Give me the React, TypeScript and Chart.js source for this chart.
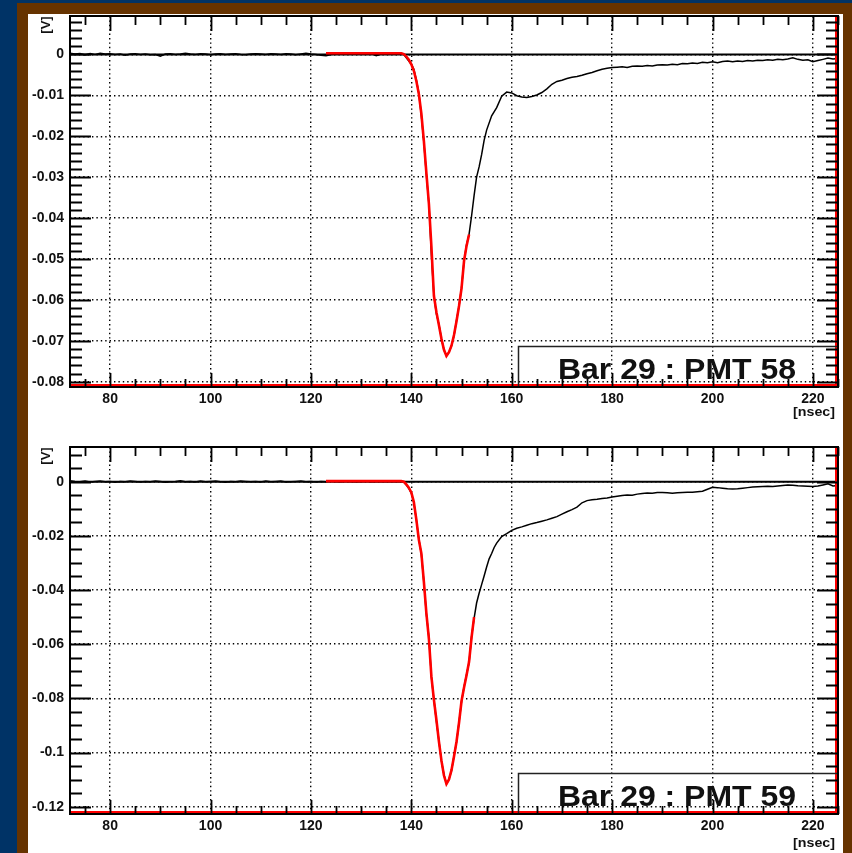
import React, { useEffect, useRef } from "react";
import { Chart, registerables } from "chart.js";

Chart.register(...registerables);

const timeMin = 72;
const timeMax = 225;
const timeMajorStep = 20;
const timeMinorStep = 5;

const pmt58Label = "Bar 29 : PMT 58";
const pmt59Label = "Bar 29 : PMT 59";

// [time (ns), amplitude (V)]
const pmt58Trace: [number, number][] = [
  [72, 0.0003], [73, 0.0001], [74, 0.0002], [75, -0.0001], [76, 0.0002], [77, 0.0], [78, 0.0003], [79, 0.0001],
  [80, 0.0002], [81, 0.0], [82, 0.0001], [83, -0.0002], [84, 0.0001], [85, 0.0002], [86, 0.0], [87, 0.0001],
  [88, -0.0001], [89, 0.0], [90, -0.0004], [91, 0.0001], [92, 0.0002], [93, 0.0], [94, 0.0001], [95, 0.0003],
  [96, 0.0001], [97, 0.0], [98, 0.0002], [99, 0.0001], [100, -0.0001], [101, 0.0001], [102, 0.0002], [103, 0.0],
  [104, 0.0001], [105, 0.0002], [106, 0.0], [107, -0.0001], [108, 0.0001], [109, 0.0002], [110, 0.0001], [111, 0.0],
  [112, 0.0002], [113, 0.0001], [114, 0.0], [115, 0.0002], [116, 0.0001], [117, -0.0001], [118, 0.0001], [119, 0.0003],
  [120, 0.0001], [121, 0.0], [122, -0.0002], [123, -0.0003], [124, 0.0], [125, 0.0001], [126, 0.0002], [127, 0.0003],
  [128, 0.0002], [129, 0.0003], [130, 0.0001], [131, 0.0002], [132, 0.0003], [133, -0.0003], [134, 0.0001], [135, 0.0004],
  [136, 0.0004], [137, 0.0004], [138, 0.0003], [138.5, 0.0], [139, -0.0008], [139.5, -0.0016], [140, -0.0024], [140.5, -0.0036],
  [141, -0.0062], [141.5, -0.0095], [142, -0.015], [142.5, -0.0215], [143, -0.0295], [143.5, -0.0365], [144, -0.049], [144.5, -0.059],
  [145, -0.0635], [145.5, -0.066], [146, -0.0695], [146.5, -0.0722], [147, -0.0737], [147.5, -0.0728], [148, -0.0712], [148.5, -0.0688],
  [149, -0.065], [149.5, -0.0615], [150, -0.057], [150.5, -0.0505], [151, -0.0465], [151.5, -0.044], [152, -0.0395], [152.5, -0.0345],
  [153, -0.03], [153.5, -0.0275], [154, -0.0245], [154.5, -0.021], [155, -0.0185], [156, -0.015], [157, -0.013], [158, -0.0102],
  [159, -0.0092], [160, -0.0094], [161, -0.0101], [162, -0.0104], [163, -0.0105], [164, -0.0103], [165, -0.0099], [166, -0.0093],
  [167, -0.0084], [168, -0.0073], [169, -0.0066], [170, -0.0063], [171, -0.0059], [172, -0.0056], [173, -0.0054], [174, -0.0051],
  [175, -0.0047], [176, -0.0044], [177, -0.004], [178, -0.0036], [179, -0.0034], [180, -0.0032], [181, -0.0031], [182, -0.003],
  [183, -0.0032], [184, -0.0029], [185, -0.0028], [186, -0.0029], [187, -0.0027], [188, -0.0028], [189, -0.0026], [190, -0.0025],
  [191, -0.0026], [192, -0.0024], [193, -0.0025], [194, -0.0022], [195, -0.0023], [196, -0.0021], [197, -0.0022], [198, -0.0019],
  [199, -0.002], [200, -0.0018], [201, -0.002], [202, -0.0017], [203, -0.0016], [204, -0.0018], [205, -0.0016], [206, -0.0017],
  [207, -0.0015], [208, -0.0016], [209, -0.0014], [210, -0.0015], [211, -0.0013], [212, -0.0014], [213, -0.0012], [214, -0.0013],
  [215, -0.0011], [216, -0.0008], [217, -0.0012], [218, -0.0014], [219, -0.0013], [220, -0.0018], [221, -0.0015], [222, -0.0012],
  [223, -0.0009], [224, -0.0011], [225, -0.001],
];

const pmt58Fit: [number, number][] = [
  [123, 0.0003], [138, 0.0003], [138.5, 0.0001], [139, -0.0005], [139.5, -0.0013], [140, -0.0024], [140.5, -0.004],
  [141, -0.0065], [141.5, -0.0097], [142, -0.0145], [142.5, -0.0212], [143, -0.029], [143.5, -0.0365], [144, -0.047],
  [144.5, -0.059], [145, -0.063], [145.5, -0.0662], [146, -0.0695], [146.5, -0.0722], [147, -0.0737], [147.5, -0.0728],
  [148, -0.0712], [148.5, -0.0686], [149, -0.0652], [149.5, -0.0615], [150, -0.0572], [150.5, -0.0505], [151, -0.0468],
  [151.5, -0.044],
];

const pmt59Trace: [number, number][] = [
  [72, 0.0003], [73, 0.0001], [74, 0.0], [75, 0.0002], [76, -0.0001], [77, 0.0001], [78, 0.0002], [79, 0.0],
  [80, 0.0001], [81, -0.0002], [82, 0.0001], [83, 0.0], [84, 0.0002], [85, 0.0001], [86, -0.0001], [87, 0.0001],
  [88, 0.0], [89, 0.0002], [90, 0.0001], [91, -0.0002], [92, 0.0], [93, 0.0001], [94, 0.0003], [95, 0.0],
  [96, 0.0001], [97, -0.0001], [98, 0.0002], [99, 0.0], [100, 0.0001], [101, 0.0002], [102, 0.0], [103, -0.0002],
  [104, 0.0001], [105, 0.0], [106, 0.0002], [107, 0.0001], [108, 0.0], [109, 0.0001], [110, -0.0001], [111, 0.0002],
  [112, 0.0], [113, 0.0001], [114, 0.0002], [115, -0.0001], [116, 0.0], [117, 0.0001], [118, 0.0002], [119, 0.0],
  [120, 0.0001], [121, -0.0001], [122, 0.0001], [123, 0.0], [124, 0.0002], [125, 0.0001], [126, 0.0], [127, 0.0002],
  [128, 0.0001], [129, 0.0], [130, 0.0001], [131, 0.0002], [132, 0.0], [133, 0.0001], [134, 0.0002], [135, 0.0001],
  [136, 0.0002], [137, 0.0001], [138, 0.0001], [138.5, -0.0002], [139, -0.0012], [139.5, -0.0025], [140, -0.0042], [140.5, -0.0078],
  [141, -0.0141], [141.5, -0.0212], [142, -0.0268], [142.5, -0.0372], [143, -0.049], [143.5, -0.0575], [144, -0.0722], [144.5, -0.0806],
  [145, -0.0885], [145.5, -0.0958], [146, -0.1032], [146.5, -0.1082], [147, -0.1116], [147.5, -0.1098], [148, -0.1068], [148.5, -0.1012],
  [149, -0.0962], [149.5, -0.0888], [150, -0.0812], [150.5, -0.0758], [151, -0.0712], [151.5, -0.0668], [152, -0.0572], [152.5, -0.0505],
  [153, -0.0448], [153.5, -0.0412], [154, -0.038], [154.5, -0.0348], [155, -0.0315], [155.5, -0.0285], [156, -0.0265], [156.5, -0.0243],
  [157, -0.0227], [158, -0.0203], [159, -0.0192], [160, -0.018], [161, -0.0172], [162, -0.0167], [163, -0.0161], [164, -0.0155],
  [165, -0.0151], [166, -0.0146], [167, -0.0141], [168, -0.0135], [169, -0.0129], [170, -0.012], [171, -0.0111], [172, -0.0103],
  [173, -0.0094], [174, -0.0078], [175, -0.007], [176, -0.0067], [177, -0.0065], [178, -0.0062], [179, -0.006], [180, -0.0057],
  [181, -0.0054], [182, -0.0051], [183, -0.0049], [184, -0.005], [185, -0.0046], [186, -0.0044], [187, -0.0042], [188, -0.0043],
  [189, -0.004], [190, -0.004], [191, -0.0041], [192, -0.0043], [193, -0.0041], [194, -0.004], [195, -0.0039], [196, -0.0039],
  [197, -0.0037], [198, -0.0035], [199, -0.0028], [200, -0.0021], [201, -0.0022], [202, -0.0024], [203, -0.0026], [204, -0.0027],
  [205, -0.0026], [206, -0.0024], [207, -0.0022], [208, -0.002], [209, -0.0019], [210, -0.0018], [211, -0.0017], [212, -0.0018],
  [213, -0.0016], [214, -0.0014], [215, -0.0012], [216, -0.0013], [217, -0.0015], [218, -0.0016], [219, -0.0017], [220, -0.0018],
  [221, -0.0016], [222, -0.0012], [223, -0.0008], [224, -0.0016], [225, -0.0014],
];

const pmt59Fit: [number, number][] = [
  [123, 0.0002], [138, 0.0002], [138.5, 0.0], [139, -0.001], [139.5, -0.0022], [140, -0.004], [140.5, -0.0075],
  [141, -0.014], [141.5, -0.0215], [142, -0.0265], [142.5, -0.037], [143, -0.0486], [143.5, -0.058], [144, -0.072],
  [144.5, -0.0806], [145, -0.088], [145.5, -0.096], [146, -0.103], [146.5, -0.1085], [147, -0.1116], [147.5, -0.11],
  [148, -0.1065], [148.5, -0.1015], [149, -0.096], [149.5, -0.089], [150, -0.081], [150.5, -0.076], [151, -0.0715],
  [151.5, -0.0665], [152, -0.0575], [152.5, -0.05],
];

const FONT_FAMILY = "'Liberation Sans', Arial, Helvetica, sans-serif";

type PlotCfg = {
  trace: [number, number][];
  fit: [number, number][];
  label: string;
  yMin: number;
  yMax: number;
  yMajor: number;
  yMinor: number;
  padTop: number;
  xAxisHeight: number;
  nsecOffset: number;
  canvasHeight: number;
  canvasTop: number;
};

function drawStretched(
  ctx: CanvasRenderingContext2D,
  text: string,
  x: number,
  y: number,
  width: number,
  font: string,
  align: "left" | "right"
) {
  ctx.save();
  ctx.font = font;
  ctx.textBaseline = "alphabetic";
  ctx.textAlign = "left";
  const w = ctx.measureText(text).width;
  const s = width / w;
  ctx.translate(align === "right" ? x - width : x, y);
  ctx.scale(s, 1);
  ctx.fillText(text, 0, 0);
  ctx.restore();
}

const rootFramePlugin = {
  id: "rootFrame",
  beforeDatasetsDraw(chart: any) {
    const { ctx, chartArea: a, scales } = chart;
    const y0 = scales.y.getPixelForValue(0);
    ctx.save();
    ctx.strokeStyle = "#000";
    ctx.lineWidth = 2;
    ctx.beginPath();
    ctx.moveTo(a.left, y0);
    ctx.lineTo(a.right, y0);
    ctx.stroke();
    ctx.restore();
  },
  afterDraw(chart: any, _args: any, cfg: any) {
    const { ctx, chartArea: a, scales } = chart;
    const xs = scales.x;
    const ys = scales.y;
    ctx.save();
    // red fit edge along bottom and right
    ctx.strokeStyle = "#ff0000";
    ctx.lineWidth = 2;
    ctx.beginPath();
    ctx.moveTo(a.left, a.bottom - 2);
    ctx.lineTo(a.right - 2, a.bottom - 2);
    ctx.lineTo(a.right - 2, a.top);
    ctx.stroke();

    // legend pave
    const boxLeft = a.left + 448.5;
    const boxTop = a.bottom - 40.5;
    ctx.strokeStyle = "#222";
    ctx.lineWidth = 1.5;
    ctx.beginPath();
    ctx.moveTo(boxLeft, a.bottom);
    ctx.lineTo(boxLeft, boxTop);
    ctx.lineTo(a.right, boxTop);
    ctx.stroke();
    ctx.fillStyle = "#111";
    drawStretched(ctx, cfg.label, a.left + 488, a.bottom - 8, 238, `bold 30px ${FONT_FAMILY}`, "left");

    // frame
    ctx.strokeStyle = "#000";
    ctx.lineWidth = 2;
    ctx.strokeRect(a.left, a.top, a.right - a.left, a.bottom - a.top);

    // ticks
    ctx.lineWidth = 1.8;
    ctx.beginPath();
    const kx0 = Math.ceil(timeMin / timeMinorStep);
    const kx1 = Math.floor(timeMax / timeMinorStep);
    const ratioX = Math.round(timeMajorStep / timeMinorStep);
    for (let k = kx0; k <= kx1; k++) {
      const px = Math.round(xs.getPixelForValue(k * timeMinorStep)) + 0.5;
      const major = k % ratioX === 0;
      const lenTop = major ? 15 : 9;
      const lenBot = major ? 14 : 8;
      ctx.moveTo(px, a.top);
      ctx.lineTo(px, a.top + lenTop);
      ctx.moveTo(px, a.bottom);
      ctx.lineTo(px, a.bottom - lenBot);
    }
    const ky0 = Math.ceil(cfg.yMin / cfg.yMinor - 1e-9);
    const ky1 = Math.floor(cfg.yMax / cfg.yMinor + 1e-9);
    const ratioY = Math.round(cfg.yMajor / cfg.yMinor);
    for (let k = ky0; k <= ky1; k++) {
      const py = Math.round(ys.getPixelForValue(k * cfg.yMinor)) + 0.5;
      const major = k % ratioY === 0;
      const len = major ? 21 : 12;
      ctx.moveTo(a.left, py);
      ctx.lineTo(a.left + len, py);
      ctx.moveTo(a.right, py);
      ctx.lineTo(a.right - len, py);
    }
    ctx.stroke();

    // axis titles
    ctx.fillStyle = "#111";
    ctx.save();
    ctx.translate(18, a.top + 9);
    ctx.rotate(-Math.PI / 2);
    ctx.font = `bold 13px ${FONT_FAMILY}`;
    ctx.textAlign = "center";
    ctx.textBaseline = "middle";
    ctx.fillText("[V]", 0, 0);
    ctx.restore();
    drawStretched(ctx, "[nsec]", 807, a.bottom + cfg.nsecOffset, 42, `bold 13px ${FONT_FAMILY}`, "right");
    ctx.restore();
  },
};

function RootPlot({ cfg }: { cfg: PlotCfg }) {
  const ref = useRef<HTMLCanvasElement>(null);
  useEffect(() => {
    const tickFont = { family: FONT_FAMILY, weight: "bold" as const, size: 14 };
    const chart = new Chart(ref.current as HTMLCanvasElement, {
      type: "line",
      data: {
        datasets: [
          {
            data: cfg.fit as any,
            borderColor: "#ff0000",
            borderWidth: 2.6,
            pointRadius: 0,
            tension: 0,
          },
          {
            data: cfg.trace as any,
            borderColor: "#000000",
            borderWidth: 1.5,
            pointRadius: 0,
            tension: 0,
          },
        ],
      },
      options: {
        animation: false,
        responsive: false,
        maintainAspectRatio: false,
        events: [],
        layout: { padding: { top: cfg.padTop, right: 3, left: 0, bottom: 0 } },
        plugins: {
          legend: { display: false },
          tooltip: { enabled: false },
          title: { display: false },
          rootFrame: cfg,
        } as any,
        scales: {
          x: {
            type: "linear",
            min: timeMin,
            max: timeMax,
            afterFit: (s: any) => {
              s.height = cfg.xAxisHeight;
              s.paddingLeft = 0;
              s.paddingRight = 0;
            },
            ticks: {
              stepSize: timeMajorStep,
              includeBounds: false,
              autoSkip: false,
              maxRotation: 0,
              padding: 4,
              color: "#111",
              font: tickFont,
            },
            grid: { color: "#000", lineWidth: 1.4, drawTicks: false },
            border: { display: false, dash: [1.4, 3] },
          },
          y: {
            type: "linear",
            min: cfg.yMin,
            max: cfg.yMax,
            afterFit: (s: any) => {
              s.width = 42;
              s.paddingTop = 0;
              s.paddingBottom = 0;
            },
            ticks: {
              stepSize: cfg.yMajor,
              includeBounds: false,
              autoSkip: false,
              padding: 6,
              color: "#111",
              font: tickFont,
              callback: (v: any) => String(Number(Number(v).toFixed(4))),
            },
            grid: { color: "#000", lineWidth: 1.4, drawTicks: false },
            border: { display: false, dash: [1.4, 3] },
          },
        },
      },
      plugins: [rootFramePlugin],
    });
    return () => chart.destroy();
  }, [cfg]);
  return (
    <canvas
      ref={ref}
      width={813}
      height={cfg.canvasHeight}
      style={{ position: "absolute", left: 28, top: cfg.canvasTop, width: 813, height: cfg.canvasHeight }}
    />
  );
}

const plot58: PlotCfg = {
  trace: pmt58Trace,
  fit: pmt58Fit,
  label: pmt58Label,
  yMin: -0.0813,
  yMax: 0.0094,
  yMajor: 0.01,
  yMinor: 0.002,
  padTop: 2,
  xAxisHeight: 47,
  nsecOffset: 29,
  canvasHeight: 420,
  canvasTop: 14,
};

const plot59: PlotCfg = {
  trace: pmt59Trace,
  fit: pmt59Fit,
  label: pmt59Label,
  yMin: -0.1227,
  yMax: 0.0128,
  yMajor: 0.02,
  yMinor: 0.005,
  padTop: 13,
  xAxisHeight: 39,
  nsecOffset: 33,
  canvasHeight: 419,
  canvasTop: 434,
};

export default function App() {
  return (
    <div
      style={{
        position: "absolute",
        left: 0,
        top: 0,
        width: 852,
        height: 853,
        overflow: "hidden",
        background: "#003366",
      }}
    >
      <div style={{ position: "absolute", left: 17, top: 3, width: 835, height: 850, background: "#663300" }} />
      <div style={{ position: "absolute", left: 28, top: 14, width: 815, height: 839, background: "#ffffff" }} />
      <RootPlot cfg={plot58} />
      <RootPlot cfg={plot59} />
    </div>
  );
}
